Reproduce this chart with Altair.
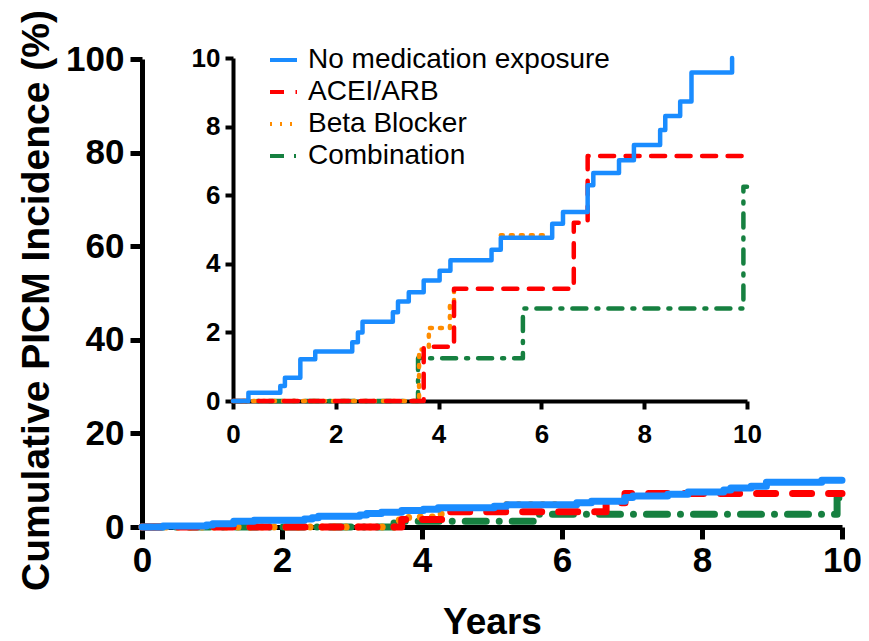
import altair as alt
import pandas as pd

# ---- data ----
series_names = ["No medication exposure", "ACEI/ARB", "Beta Blocker", "Combination"]
series_colors = ["#1a8cff", "#ff0000", "#ff8c00", "#168040"]
draw_order = ["Combination", "Beta Blocker", "ACEI/ARB", "No medication exposure"]

none_x = [0, 0.30, 0.92, 1.01, 1.31, 1.60, 2.32, 2.43, 2.52, 3.11, 3.21, 3.42, 3.71,
          4.02, 4.23, 5.03, 5.21, 6.21, 6.42, 6.90, 7.01, 7.51, 7.80, 8.31, 8.41,
          8.70, 8.92, 9.71]
none_y = [0, 0.24, 0.44, 0.68, 1.22, 1.44, 1.71, 2.00, 2.31, 2.59, 2.90, 3.17, 3.51,
          3.80, 4.10, 4.41, 4.76, 5.17, 5.51, 6.29, 6.65, 7.02, 7.46, 7.90, 8.31,
          8.73, 9.58, 10.0]
none_seg = [0] * len(none_x)

acei_x = [0, 3.71, 4.30, 6.63, 6.90, 10.0]
acei_y = [0, 1.58, 3.27, 5.20, 7.14, 7.14]
acei_seg = [0] * len(acei_x)

# beta blocker: only the visible pieces of the dotted curve
beta_x = [0, 3.62, 3.81, 4.22, 4.30, 5.21, 6.05]
beta_y = [0, 1.50, 2.13, 2.80, 3.27, 4.83, 4.83]
beta_seg = [0, 0, 0, 0, 0, 1, 1]

combo_x = [0, 3.60, 5.64, 9.93, 10.0]
combo_y = [0, 1.25, 2.70, 6.25, 6.25]
combo_seg = [0] * len(combo_x)

main_x_end = 10.0
x_ticks = [0, 2, 4, 6, 8, 10]
main_y_ticks = [0, 20, 40, 60, 80, 100]
inset_y_ticks = [0, 2, 4, 6, 8, 10]

series_data = {
    "No medication exposure": (none_x, none_y, none_seg),
    "ACEI/ARB": (acei_x, acei_y, acei_seg),
    "Beta Blocker": (beta_x, beta_y, beta_seg),
    "Combination": (combo_x, combo_y, combo_seg),
}


def build(extend):
    rows = []
    for name in draw_order:
        xs, ys, ss = series_data[name]
        xs, ys, ss = list(xs), list(ys), list(ss)
        if extend and 9.5 <= xs[-1] < main_x_end:
            xs.append(main_x_end)
            ys.append(ys[-1])
            ss.append(ss[-1])
        for i, (a, b, s) in enumerate(zip(xs, ys, ss)):
            rows.append({"series": name, "x": a, "y": b, "i": i,
                         "piece": f"{name}-{s}"})
    return pd.DataFrame(rows)


main_df = build(True)
inset_df = build(False)

FONT = "Liberation Sans"

dash_main = [[1, 0], [19, 17], [0.01, 12], [21, 13, 0.01, 13]]
dash_inset = [[1, 0], [14, 11.5], [2, 8], [14, 10, 2, 10]]

W, H = 700, 468
PAD_L, PAD_T, PAD_R, PAD_B = 134, 51, 19, 114

axis_main = dict(domainColor="black", domainWidth=5, tickColor="black", tickWidth=5,
                 tickSize=12, labelFont=FONT, labelFontWeight="bold", labelFontSize=35,
                 labelColor="black", labelFlush=False, titleFont=FONT,
                 titleFontWeight="bold", titleColor="black", grid=False)

axis_inset = dict(domainColor="black", domainWidth=4, tickColor="black", tickWidth=4,
                  tickSize=8, labelFont=FONT, labelFontWeight="bold", labelFontSize=26,
                  labelColor="black", labelFlush=False, grid=False, title=None)

main = alt.Chart(main_df).mark_line(interpolate="step-after", strokeWidth=7,
                                    strokeCap="round", strokeJoin="round").encode(
    x=alt.X("x:Q", scale=alt.Scale(domain=[0, 10], nice=False),
            axis=alt.Axis(values=x_ticks, title="Years", titleFontSize=37,
                          titlePadding=26, labelPadding=4, **axis_main)),
    y=alt.Y("y:Q", scale=alt.Scale(domain=[0, 100], nice=False),
            axis=alt.Axis(values=main_y_ticks, title="Cumulative PICM Incidence (%)",
                          titleFontSize=39, titlePadding=9, titleY=241,
                          labelPadding=6, **axis_main)),
    color=alt.Color("series:N", scale=alt.Scale(domain=series_names, range=series_colors),
                    legend=None),
    strokeDash=alt.StrokeDash("series:N", scale=alt.Scale(domain=series_names, range=dash_main),
                              legend=None),
    detail="piece:N",
    order="i:Q",
)

legend_props = dict(title=None, orient="none", legendX=126, legendY=-14.5,
                    symbolType="stroke", symbolSize=729, symbolStrokeWidth=4,
                    labelFont=FONT, labelFontSize=28, labelColor="black",
                    labelLimit=500, rowPadding=2, labelOffset=9, padding=0)

inset = alt.Chart(inset_df).mark_line(interpolate="step-after", strokeWidth=4.5,
                                      strokeCap="round", strokeJoin="round").encode(
    x=alt.X("x:Q", scale=alt.Scale(domain=[0, 10], range=[91, 605], nice=False),
            axis=alt.Axis(values=x_ticks, orient="bottom", offset=-126, labelPadding=12,
                          **axis_inset)),
    y=alt.Y("y:Q", scale=alt.Scale(domain=[0, 10], range=[342, -1], nice=False),
            axis=alt.Axis(values=inset_y_ticks, orient="left", offset=-91, labelPadding=5,
                          **axis_inset)),
    color=alt.Color("series:N", scale=alt.Scale(domain=series_names, range=series_colors),
                    legend=alt.Legend(**legend_props)),
    strokeDash=alt.StrokeDash("series:N", scale=alt.Scale(domain=series_names, range=dash_inset),
                              legend=alt.Legend(**legend_props)),
    detail="piece:N",
    order="i:Q",
)

chart = alt.layer(main, inset).resolve_scale(
    x="independent", y="independent", color="independent", strokeDash="independent"
).properties(
    width=W, height=H, autosize="none",
    padding={"left": PAD_L, "top": PAD_T, "right": PAD_R, "bottom": PAD_B},
    background="white",
).configure_view(strokeWidth=0)

chart.save("out.html", embed_options={"renderer": "svg", "actions": False})
